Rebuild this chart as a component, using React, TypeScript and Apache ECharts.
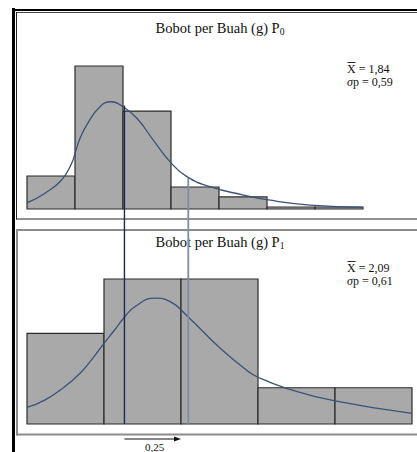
import { useEffect, useRef } from "react";
import * as echarts from "echarts";

// Histogram frequencies per class (bin index as x)
const topCounts = [3, 13, 8.9, 2, 1.1, 0.18, 0.18];
const bottomCounts = [5, 8, 8, 2, 2];

// Fitted density curves (x in bin units, y in frequency units)
const topCurve = [
  [0, 0.55], [0.375, 1.43], [0.72, 2.64], [0.93, 4.15], [1.01, 5.2], [1.1, 6.36],
  [1.24, 7.6], [1.52, 9.3], [1.76, 9.75], [2.0, 9.3], [2.29, 8.25], [2.63, 6.27],
  [3.01, 4.15], [3.33, 2.94], [3.81, 2.03], [4.51, 1.27], [5.03, 0.82], [5.9, 0.36],
  [7.0, 0.15],
];
const bottomCurve = [
  [0, 0.92], [0.23, 1.32], [0.49, 2.06], [0.69, 2.8], [0.84, 3.55], [1.0, 4.45],
  [1.14, 5.2], [1.26, 5.86], [1.4, 6.47], [1.66, 6.94], [1.86, 6.75], [2.09, 5.92],
  [2.51, 4.18], [2.85, 2.98], [3.0, 2.58], [3.37, 1.97], [4.0, 1.27], [5.0, 0.59],
];

const titleMain = ["Bobot per Buah (g) P", "Bobot per Buah (g) P"];
const titleSub = ["0", "1"];
const means = ["1,84", "2,09"];
const sds = ["0,59", "0,61"];
// reference lines: x and top end in the upper panel's units
const refLines = [
  { x: 2.03, y: 9.4, color: "#1b2a52", width: 1.4 },
  { x: 3.36, y: 2.82, color: "#7f8ea5", width: 1.8 },
];
const shiftLabel = "0,25";

const FONT = "'Liberation Serif', 'DejaVu Serif', serif";

export default function App() {
  const ref = useRef<HTMLDivElement>(null);
  useEffect(() => {
    if (!ref.current) return;
    const chart = echarts.init(ref.current, undefined, { renderer: "svg" });

    const histItem = (params: any, api: any) => {
      const s = api.value(0);
      const e = api.value(1);
      const v = api.value(2);
      const p0 = api.coord([s, v]);
      const p1 = api.coord([e, 0]);
      return {
        type: "rect",
        shape: { x: p0[0], y: p0[1], width: p1[0] - p0[0], height: p1[1] - p0[1] },
        style: { fill: "#a9a9a9", stroke: "#2b2b2b", lineWidth: 1.2 },
      };
    };

    const titleText = (i: number, y: number) => ({
      type: "text",
      x: 220,
      y,
      z: 10,
      style: {
        text: `{m|${titleMain[i]}}{s|${titleSub[i]}}`,
        align: "center",
        verticalAlign: "middle",
        rich: {
          m: { fontFamily: FONT, fontSize: 14.5, fill: "#111" },
          s: { fontFamily: FONT, fontSize: 9.5, fill: "#111", padding: [8, 0, 0, 0] },
        },
      },
    });

    const statText = (i: number, y: number) => [
      {
        type: "text",
        x: 347,
        y,
        z: 10,
        style: {
          text: `X = ${means[i]}`,
          fontFamily: FONT,
          fontSize: 12,
          fill: "#111",
          verticalAlign: "middle",
        },
      },
      {
        type: "line",
        z: 10,
        shape: { x1: 347.5, y1: y - 6.5, x2: 355.5, y2: y - 6.5 },
        style: { stroke: "#111", lineWidth: 0.9 },
      },
      {
        type: "text",
        x: 347,
        y: y + 12.5,
        z: 10,
        style: {
          text: `{i|σ}{n|p = ${sds[i]}}`,
          verticalAlign: "middle",
          rich: {
            i: { fontFamily: FONT, fontSize: 12, fontStyle: "italic", fill: "#111" },
            n: { fontFamily: FONT, fontSize: 12, fill: "#111" },
          },
        },
      },
    ];

    const hl = (x1: number, y1: number, x2: number, y2: number, stroke: string, lineWidth: number) => ({
      type: "line",
      z: 0,
      shape: { x1, y1, x2, y2 },
      style: { stroke, lineWidth },
    });
    const frames = [
      hl(16, 12.5, 430, 12.5, "#444", 1),
      hl(16.5, 12, 16.5, 219.5, "#222", 1),
      hl(16, 219, 430, 219, "#222", 1),
      hl(16, 230, 430, 230, "#8c8c8c", 2),
      hl(17, 229, 17, 435.5, "#8c8c8c", 2),
      hl(16, 434.5, 430, 434.5, "#8c8c8c", 2),
      hl(13.5, 8, 13.5, 460, "#000", 3),
      hl(12, 10, 430, 10, "#000", 2),
    ];

    const baseGraphic = [
      ...frames,
      titleText(0, 28),
      titleText(1, 242),
      ...statText(0, 69),
      ...statText(1, 268),
    ];

    chart.setOption({
      animation: false,
      backgroundColor: "#fff",
      grid: [
        { left: 27, top: 66, width: 336, height: 143 },
        { left: 27, top: 279, width: 385, height: 145 },
      ],
      xAxis: [
        { type: "value", gridIndex: 0, min: 0, max: 7, show: false },
        { type: "value", gridIndex: 1, min: 0, max: 5, show: false },
      ],
      yAxis: [
        { type: "value", gridIndex: 0, min: 0, max: 13, show: false },
        { type: "value", gridIndex: 1, min: 0, max: 8, show: false },
      ],
      series: [
        {
          type: "custom",
          xAxisIndex: 0,
          yAxisIndex: 0,
          renderItem: histItem,
          encode: { x: [0, 1], y: 2 },
          data: topCounts.map((c, i) => [i, i + 1, c]),
          z: 2,
        },
        {
          type: "custom",
          xAxisIndex: 1,
          yAxisIndex: 1,
          renderItem: histItem,
          encode: { x: [0, 1], y: 2 },
          data: bottomCounts.map((c, i) => [i, i + 1, c]),
          z: 2,
        },
        {
          type: "line",
          xAxisIndex: 0,
          yAxisIndex: 0,
          data: topCurve,
          smooth: 0.5,
          symbol: "none",
          lineStyle: { color: "#3a5278", width: 1.3 },
          z: 3,
        },
        {
          type: "line",
          xAxisIndex: 1,
          yAxisIndex: 1,
          data: bottomCurve,
          smooth: 0.5,
          symbol: "none",
          lineStyle: { color: "#3a5278", width: 1.3 },
          z: 3,
        },
      ],
      graphic: baseGraphic,
    });

    // reference lines spanning both panels, positioned through the axes
    const bottomBase = chart.convertToPixel({ gridIndex: 1 } as any, [0, 0]) as number[];
    const lineEls: any[] = refLines.map((r) => {
      const p = chart.convertToPixel({ gridIndex: 0 } as any, [r.x, r.y]) as number[];
      return {
        type: "line",
        z: 20,
        shape: { x1: p[0], y1: p[1], x2: p[0], y2: bottomBase[1] },
        style: { stroke: r.color, lineWidth: r.width },
      };
    });
    const startX = (chart.convertToPixel({ gridIndex: 0 } as any, [refLines[0].x, 0]) as number[])[0];
    const arrowY = 439;
    const arrowEnd = 181;
    lineEls.push(
      { type: "line", z: 20, shape: { x1: startX, y1: arrowY, x2: arrowEnd - 5, y2: arrowY }, style: { stroke: "#111", lineWidth: 1.2 } },
      { type: "polygon", z: 20, shape: { points: [[arrowEnd, arrowY], [arrowEnd - 7, arrowY - 2.5], [arrowEnd - 7, arrowY + 2.5]] }, style: { fill: "#111" } },
      { type: "text", z: 20, x: (startX + arrowEnd) / 2 + 2, y: 441, style: { text: shiftLabel, fontFamily: FONT, fontSize: 11, fill: "#111", align: "center", verticalAlign: "top" } },
    );
    chart.setOption({ graphic: [...baseGraphic, ...lineEls] }, { replaceMerge: ["graphic"] });

    return () => chart.dispose();
  }, []);
  return (
    <div
      ref={ref}
      style={{ position: "fixed", left: 0, top: 0, width: 417, height: 452 }}
    />
  );
}
